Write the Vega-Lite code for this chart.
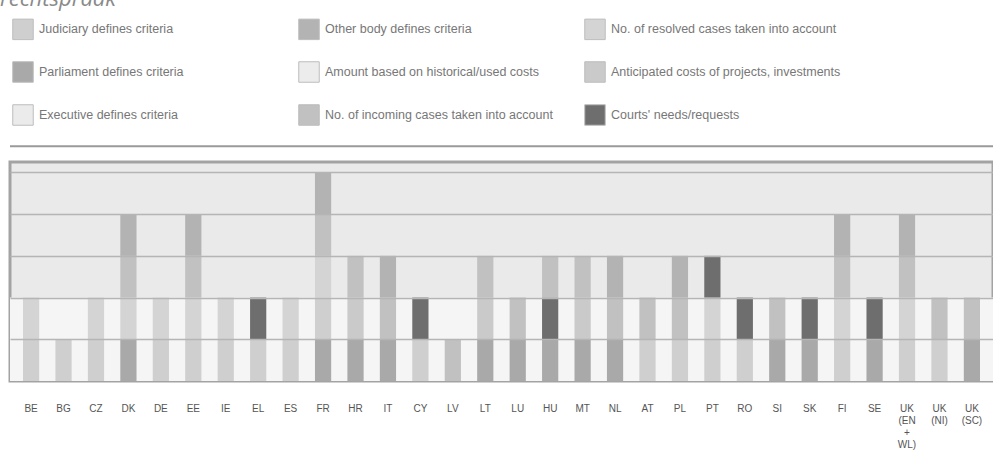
{
  "$schema": "https://vega.github.io/schema/vega-lite/v6.json",
  "width": 983,
  "height": 219,
  "autosize": {"type": "none"},
  "padding": {"left": 10, "top": 162, "right": 0, "bottom": 75},
  "background": "white",
  "config": {
    "view": {"fill": "#eaeaea", "stroke": "#a3a3a3", "strokeWidth": 3},
    "font": "Liberation Sans"
  },
  "title": {
    "text": "rechtspraak",
    "anchor": "start",
    "frame": "group",
    "fontSize": 22,
    "fontStyle": "italic",
    "fontWeight": "normal",
    "font": "Open Sans",
    "color": "#8a8a8a",
    "baseline": "alphabetic",
    "dx": -10,
    "dy": 19,
    "offset": 9
  },
  "data": {
    "values": [
      {"country": "BE", "criterion": "Judiciary defines criteria", "rank": 2, "value": 1},
      {"country": "BE", "criterion": "No. of resolved cases taken into account", "rank": 5, "value": 1},
      {"country": "BG", "criterion": "Judiciary defines criteria", "rank": 2, "value": 1},
      {"country": "CZ", "criterion": "Judiciary defines criteria", "rank": 2, "value": 1},
      {"country": "CZ", "criterion": "No. of resolved cases taken into account", "rank": 5, "value": 1},
      {"country": "DK", "criterion": "Parliament defines criteria", "rank": 1, "value": 1},
      {"country": "DK", "criterion": "No. of resolved cases taken into account", "rank": 5, "value": 1},
      {"country": "DK", "criterion": "No. of incoming cases taken into account", "rank": 8, "value": 1},
      {"country": "DK", "criterion": "Other body defines criteria", "rank": 9, "value": 1},
      {"country": "DE", "criterion": "Judiciary defines criteria", "rank": 2, "value": 1},
      {"country": "DE", "criterion": "No. of resolved cases taken into account", "rank": 5, "value": 1},
      {"country": "EE", "criterion": "Judiciary defines criteria", "rank": 2, "value": 1},
      {"country": "EE", "criterion": "No. of resolved cases taken into account", "rank": 5, "value": 1},
      {"country": "EE", "criterion": "No. of incoming cases taken into account", "rank": 8, "value": 1},
      {"country": "EE", "criterion": "Other body defines criteria", "rank": 9, "value": 1},
      {"country": "IE", "criterion": "Judiciary defines criteria", "rank": 2, "value": 1},
      {"country": "IE", "criterion": "No. of resolved cases taken into account", "rank": 5, "value": 1},
      {"country": "EL", "criterion": "Judiciary defines criteria", "rank": 2, "value": 1},
      {"country": "EL", "criterion": "Courts' needs/requests", "rank": 6, "value": 1},
      {"country": "ES", "criterion": "Judiciary defines criteria", "rank": 2, "value": 1},
      {"country": "ES", "criterion": "No. of resolved cases taken into account", "rank": 5, "value": 1},
      {"country": "FR", "criterion": "Parliament defines criteria", "rank": 1, "value": 1},
      {"country": "FR", "criterion": "Judiciary defines criteria", "rank": 2, "value": 1},
      {"country": "FR", "criterion": "No. of resolved cases taken into account", "rank": 5, "value": 1},
      {"country": "FR", "criterion": "No. of incoming cases taken into account", "rank": 8, "value": 1},
      {"country": "FR", "criterion": "Other body defines criteria", "rank": 9, "value": 1},
      {"country": "HR", "criterion": "Parliament defines criteria", "rank": 1, "value": 1},
      {"country": "HR", "criterion": "Anticipated costs of projects, investments", "rank": 7, "value": 1},
      {"country": "HR", "criterion": "No. of incoming cases taken into account", "rank": 8, "value": 1},
      {"country": "IT", "criterion": "Parliament defines criteria", "rank": 1, "value": 1},
      {"country": "IT", "criterion": "No. of incoming cases taken into account", "rank": 8, "value": 1},
      {"country": "IT", "criterion": "Other body defines criteria", "rank": 9, "value": 1},
      {"country": "CY", "criterion": "Judiciary defines criteria", "rank": 2, "value": 1},
      {"country": "CY", "criterion": "Courts' needs/requests", "rank": 6, "value": 1},
      {"country": "LV", "criterion": "No. of incoming cases taken into account", "rank": 8, "value": 1},
      {"country": "LT", "criterion": "Parliament defines criteria", "rank": 1, "value": 1},
      {"country": "LT", "criterion": "Anticipated costs of projects, investments", "rank": 7, "value": 1},
      {"country": "LT", "criterion": "No. of incoming cases taken into account", "rank": 8, "value": 1},
      {"country": "LU", "criterion": "Parliament defines criteria", "rank": 1, "value": 1},
      {"country": "LU", "criterion": "No. of incoming cases taken into account", "rank": 8, "value": 1},
      {"country": "HU", "criterion": "Parliament defines criteria", "rank": 1, "value": 1},
      {"country": "HU", "criterion": "Courts' needs/requests", "rank": 6, "value": 1},
      {"country": "HU", "criterion": "No. of incoming cases taken into account", "rank": 8, "value": 1},
      {"country": "MT", "criterion": "Parliament defines criteria", "rank": 1, "value": 1},
      {"country": "MT", "criterion": "Anticipated costs of projects, investments", "rank": 7, "value": 1},
      {"country": "MT", "criterion": "No. of incoming cases taken into account", "rank": 8, "value": 1},
      {"country": "NL", "criterion": "Parliament defines criteria", "rank": 1, "value": 1},
      {"country": "NL", "criterion": "No. of incoming cases taken into account", "rank": 8, "value": 1},
      {"country": "NL", "criterion": "Other body defines criteria", "rank": 9, "value": 1},
      {"country": "AT", "criterion": "Judiciary defines criteria", "rank": 2, "value": 1},
      {"country": "AT", "criterion": "No. of incoming cases taken into account", "rank": 8, "value": 1},
      {"country": "PL", "criterion": "Judiciary defines criteria", "rank": 2, "value": 1},
      {"country": "PL", "criterion": "No. of incoming cases taken into account", "rank": 8, "value": 1},
      {"country": "PL", "criterion": "Other body defines criteria", "rank": 9, "value": 1},
      {"country": "PT", "criterion": "Judiciary defines criteria", "rank": 2, "value": 1},
      {"country": "PT", "criterion": "No. of resolved cases taken into account", "rank": 5, "value": 1},
      {"country": "PT", "criterion": "Courts' needs/requests", "rank": 6, "value": 1},
      {"country": "RO", "criterion": "Judiciary defines criteria", "rank": 2, "value": 1},
      {"country": "RO", "criterion": "Courts' needs/requests", "rank": 6, "value": 1},
      {"country": "SI", "criterion": "Parliament defines criteria", "rank": 1, "value": 1},
      {"country": "SI", "criterion": "No. of incoming cases taken into account", "rank": 8, "value": 1},
      {"country": "SK", "criterion": "Parliament defines criteria", "rank": 1, "value": 1},
      {"country": "SK", "criterion": "Courts' needs/requests", "rank": 6, "value": 1},
      {"country": "FI", "criterion": "Judiciary defines criteria", "rank": 2, "value": 1},
      {"country": "FI", "criterion": "No. of resolved cases taken into account", "rank": 5, "value": 1},
      {"country": "FI", "criterion": "No. of incoming cases taken into account", "rank": 8, "value": 1},
      {"country": "FI", "criterion": "Other body defines criteria", "rank": 9, "value": 1},
      {"country": "SE", "criterion": "Parliament defines criteria", "rank": 1, "value": 1},
      {"country": "SE", "criterion": "Courts' needs/requests", "rank": 6, "value": 1},
      {"country": "UK (EN+WL)", "criterion": "Judiciary defines criteria", "rank": 2, "value": 1},
      {"country": "UK (EN+WL)", "criterion": "No. of resolved cases taken into account", "rank": 5, "value": 1},
      {"country": "UK (EN+WL)", "criterion": "No. of incoming cases taken into account", "rank": 8, "value": 1},
      {"country": "UK (EN+WL)", "criterion": "Other body defines criteria", "rank": 9, "value": 1},
      {"country": "UK (NI)", "criterion": "Judiciary defines criteria", "rank": 2, "value": 1},
      {"country": "UK (NI)", "criterion": "No. of incoming cases taken into account", "rank": 8, "value": 1},
      {"country": "UK (SC)", "criterion": "Parliament defines criteria", "rank": 1, "value": 1},
      {"country": "UK (SC)", "criterion": "No. of incoming cases taken into account", "rank": 8, "value": 1}
    ]
  },
  "layer": [
    {
      "data": {"values": [{"from": 0, "to": 2}]},
      "mark": {"type": "rect", "color": "#f5f5f5"},
      "encoding": {
        "y": {
          "field": "from",
          "type": "quantitative",
          "scale": {"domain": [0, 5.25], "nice": false},
          "axis": {
            "title": null,
            "labels": false,
            "ticks": false,
            "domain": false,
            "grid": true,
            "values": [1, 2, 3, 4, 5],
            "gridColor": "#b5b5b5",
            "gridWidth": 1.5,
            "zindex": 1
          }
        },
        "y2": {"field": "to"}
      }
    },
    {
      "mark": {"type": "bar"},
      "encoding": {
        "x": {
          "field": "country",
          "type": "nominal",
          "sort": null,
          "scale": {"paddingInner": 0.5, "paddingOuter": 0.4},
          "axis": {
            "title": null,
            "labelAngle": 0,
            "ticks": false,
            "domain": false,
            "labelPadding": 22,
            "labelFontSize": 10,
            "labelColor": "#555555",
            "labelLineHeight": 12,
            "labelExpr": "split(replace(replace(datum.label, ' (', '\\n('), '+', '\\n+\\n'), '\\n')"
          }
        },
        "y": {
          "field": "value",
          "type": "quantitative",
          "stack": "zero",
          "scale": {"domain": [0, 5.25], "nice": false}
        },
        "color": {
          "field": "criterion",
          "type": "nominal",
          "scale": {
            "domain": [
              "Judiciary defines criteria",
              "Parliament defines criteria",
              "Executive defines criteria",
              "Other body defines criteria",
              "Amount based on historical/used costs",
              "No. of incoming cases taken into account",
              "No. of resolved cases taken into account",
              "Anticipated costs of projects, investments",
              "Courts' needs/requests"
            ],
            "range": ["#cfcfcf", "#a9a9a9", "#ebebeb", "#b3b3b3", "#ececec", "#c1c1c1", "#d4d4d4", "#cacaca", "#6e6e6e"]
          },
          "legend": {
            "orient": "none",
            "legendX": 2,
            "legendY": -144,
            "columns": 3,
            "gridAlign": "all",
            "columnPadding": 27,
            "rowPadding": 17,
            "symbolType": "square",
            "symbolSize": 420,
            "symbolStrokeColor": "#bdbdbd",
            "symbolStrokeWidth": 1,
            "symbolOpacity": 1,
            "labelFontSize": 12.5,
            "labelColor": "#777777",
            "labelOffset": 5,
            "labelLimit": 300,
            "title": null
          }
        },
        "order": {"field": "rank", "type": "quantitative"}
      }
    },
    {
      "data": {"values": [{"line": 5.63}]},
      "mark": {"type": "rule", "color": "#9a9a9a", "strokeWidth": 2},
      "encoding": {
        "y": {"field": "line", "type": "quantitative", "scale": {"domain": [0, 5.25], "nice": false}}
      }
    }
  ]
}
